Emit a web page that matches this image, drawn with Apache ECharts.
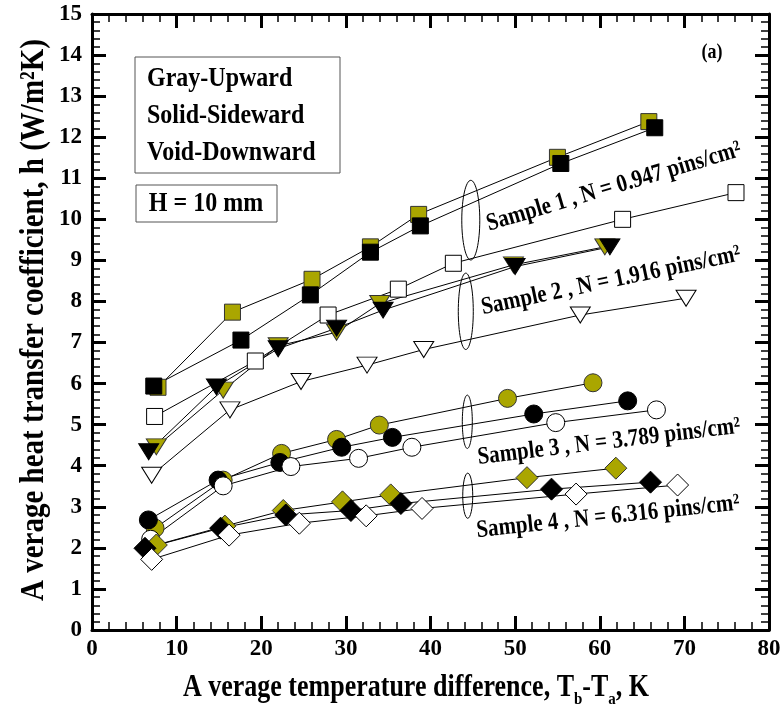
<!DOCTYPE html>
<html>
<head>
<meta charset="utf-8">
<script src="https://cdn.jsdelivr.net/npm/echarts@6/dist/echarts.min.js"></script>
<style>
  html, body { margin: 0; padding: 0; background: #fff; }
  #chart { width: 784px; height: 708px; }
</style>
</head>
<body>
<div id="chart"></div>
<script>
// Axis ranges and tick labels
const xTicks = [0, 10, 20, 30, 40, 50, 60, 70, 80];
const yTicks = [0, 1, 2, 3, 4, 5, 6, 7, 8, 9, 10, 11, 12, 13, 14, 15];

// Sample 1, N = 0.947 pins/cm² (squares)
const s1UpX   = [7.8, 16.6, 26.0, 32.9, 38.6, 55.0, 65.8];
const s1UpY   = [5.91, 7.74, 8.54, 9.33, 10.12, 11.51, 12.38];
const s1SideX = [7.3, 17.6, 25.8, 32.9, 38.8, 55.4, 66.5];
const s1SideY = [5.94, 7.06, 8.16, 9.20, 9.84, 11.36, 12.23];
const s1DownX = [7.4, 19.3, 27.9, 36.2, 42.7, 62.7, 76.1];
const s1DownY = [5.20, 6.55, 7.67, 8.30, 8.93, 10.00, 10.65];

// Sample 2, N = 1.916 pins/cm² (down triangles)
const s2UpX   = [7.6, 15.5, 22.0, 28.9, 34.0, 49.8, 60.6];
const s2UpY   = [4.46, 5.84, 6.92, 7.25, 7.95, 8.89, 9.33];
const s2SideX = [6.7, 14.7, 22.0, 28.9, 34.4, 50.0, 61.2];
const s2SideY = [4.34, 5.92, 6.85, 7.35, 7.79, 8.85, 9.33];
const s2DownX = [7.05, 16.3, 24.7, 32.5, 39.2, 57.7, 70.2];
const s2DownY = [3.77, 5.36, 6.05, 6.45, 6.83, 7.67, 8.08];

// Sample 3, N = 3.789 pins/cm² (circles)
const s3UpX   = [7.45, 15.5, 22.4, 28.9, 33.95, 49.1, 59.2];
const s3UpY   = [2.48, 3.65, 4.30, 4.64, 4.99, 5.64, 6.02];
const s3SideX = [6.66, 14.9, 22.2, 29.5, 35.5, 52.2, 63.3];
const s3SideY = [2.68, 3.65, 4.08, 4.45, 4.69, 5.26, 5.58];
const s3DownX = [6.93, 15.5, 23.5, 31.5, 37.8, 54.8, 66.7];
const s3DownY = [2.21, 3.51, 3.98, 4.18, 4.45, 5.05, 5.36];

// Sample 4, N = 6.316 pins/cm² (diamonds)
const s4UpX   = [7.6, 15.7, 22.6, 29.6, 35.3, 51.4, 61.9];
const s4UpY   = [2.07, 2.53, 2.91, 3.12, 3.29, 3.71, 3.94];
const s4SideX = [6.26, 15.2, 22.9, 30.6, 36.5, 54.3, 66.0];
const s4SideY = [1.99, 2.48, 2.80, 2.91, 3.08, 3.43, 3.60];
const s4DownX = [7.05, 16.2, 24.5, 32.4, 39.0, 57.2, 69.2];
const s4DownY = [1.72, 2.31, 2.60, 2.78, 2.96, 3.31, 3.53];

// Group labels and the ellipses that bracket each group (data units)
const sampleLabels = [
  'Sample 1 , N = 0.947 pins/cm²',
  'Sample 2 , N = 1.916 pins/cm²',
  'Sample 3 , N = 3.789 pins/cm²',
  'Sample 4 , N = 6.316 pins/cm²'
];
const ellipseCX = [44.76, 44.17, 44.35, 44.40];
const ellipseCY = [9.98, 7.76, 5.07, 3.27];
const ellipseRY = [0.97, 0.93, 0.65, 0.55];

const FONT = '"Liberation Serif", "Times New Roman", serif';
const OLIVE = '#aaa600';
const TALL = 1.18; // vertical stretch applied to the annotation lettering

const pairs = (xs, ys) => xs.map((x, i) => [x, ys[i]]);

const fills = { up: OLIVE, side: '#000', down: '#fff' };
const borders = { up: '#333', side: '#000', down: '#000' };

const shapes = [
  { symbol: 'rect', size: 16, rotate: 0 },
  { symbol: 'triangle', size: [20, 16], rotate: 180 },
  { symbol: 'circle', size: 18, rotate: 0 },
  { symbol: 'diamond', size: 22, rotate: 0 }
];

const groups = [
  { up: [s1UpX, s1UpY], side: [s1SideX, s1SideY], down: [s1DownX, s1DownY] },
  { up: [s2UpX, s2UpY], side: [s2SideX, s2SideY], down: [s2DownX, s2DownY] },
  { up: [s3UpX, s3UpY], side: [s3SideX, s3SideY], down: [s3DownX, s3DownY] },
  { up: [s4UpX, s4UpY], side: [s4SideX, s4SideY], down: [s4DownX, s4DownY] }
];

const series = [];
groups.forEach((g, gi) => {
  ['up', 'side', 'down'].forEach(k => {
    series.push({
      name: 'Sample ' + (gi + 1) + ' ' + k,
      type: 'line',
      data: pairs(g[k][0], g[k][1]),
      symbol: shapes[gi].symbol,
      symbolSize: shapes[gi].size,
      symbolRotate: shapes[gi].rotate,
      showSymbol: true,
      lineStyle: { color: '#000', width: 1 },
      itemStyle: { color: fills[k], borderColor: borders[k], borderWidth: 1, opacity: 1 },
      emphasis: { disabled: true },
      z: 3
    });
  });
});

function axisCommon(min, max, interval, pos, showLabel) {
  return {
    type: 'value', min: min, max: max, interval: interval, position: pos,
    axisLine: { show: true, onZero: false, lineStyle: { color: '#000', width: 3 } },
    axisTick: { show: true, inside: true, length: 14, lineStyle: { color: '#000', width: 3 } },
    minorTick: { show: true, splitNumber: 5, length: 8, lineStyle: { color: '#000', width: 1.5 } },
    splitLine: { show: false },
    axisLabel: {
      show: showLabel, color: '#000', fontFamily: FONT, fontWeight: 'bold', fontSize: 23,
      showMinLabel: true, showMaxLabel: true
    }
  };
}

const xMain = axisCommon(xTicks[0], xTicks[xTicks.length - 1], xTicks[1] - xTicks[0], 'bottom', true);
xMain.axisLabel.margin = 8;
xMain.axisLabel.formatter = v => String(xTicks.find(t => t === v) ?? v);
const yMain = axisCommon(yTicks[0], yTicks[yTicks.length - 1], yTicks[1] - yTicks[0], 'left', true);
yMain.axisLabel.margin = 10;
yMain.axisLabel.formatter = v => String(yTicks.find(t => t === v) ?? v);

const chart = echarts.init(document.getElementById('chart'), null, { renderer: 'canvas' });

chart.setOption({
  animation: false,
  backgroundColor: '#fff',
  grid: { left: 92, right: 15, top: 14, bottom: 78, containLabel: false },
  xAxis: [xMain, axisCommon(0, 80, 10, 'top', false)],
  yAxis: [yMain, axisCommon(0, 15, 1, 'right', false)],
  series: series
});

// Annotations: titles, boxed key, group ellipses and rotated group labels
const graphics = [];

graphics.push({
  type: 'text', x: 34, y: 320, rotation: Math.PI / 2, scaleY: TALL,
  style: {
    text: 'A verage heat transfer coefficient, h (W/m²K)',
    font: 'bold 29px ' + FONT, fill: '#000', align: 'center', verticalAlign: 'middle'
  }
});

graphics.push({
  type: 'text', x: 416, y: 688, scaleY: TALL,
  style: {
    text: 'A verage temperature difference, T{sub|b}-T{sub|a}, K',
    font: 'bold 26px ' + FONT, fill: '#000', align: 'center', verticalAlign: 'middle',
    lineHeight: 34,
    rich: { sub: { font: 'bold 15px ' + FONT, fill: '#000', verticalAlign: 'bottom', lineHeight: 34 } }
  }
});

// Key box
graphics.push({
  type: 'rect', shape: { x: 135, y: 57, width: 205, height: 116 },
  style: { fill: '#fff', stroke: '#555', lineWidth: 1 }, z: 10
});
['Gray-Upward', 'Solid-Sideward', 'Void-Downward'].forEach((t, i) => {
  graphics.push({
    type: 'text', x: 147, y: 79 + i * 37, z: 11, scaleY: TALL,
    style: { text: t, font: 'bold 24px ' + FONT, fill: '#000', align: 'left', verticalAlign: 'middle' }
  });
});
graphics.push({
  type: 'rect', shape: { x: 136, y: 185, width: 141, height: 37 },
  style: { fill: '#fff', stroke: '#555', lineWidth: 1 }, z: 10
});
graphics.push({
  type: 'text', x: 206, y: 204, z: 11, scaleY: TALL,
  style: { text: 'H = 10 mm', font: 'bold 24px ' + FONT, fill: '#000', align: 'center', verticalAlign: 'middle' }
});
graphics.push({
  type: 'text', x: 712, y: 53, z: 11, scaleY: TALL,
  style: { text: '(a)', font: 'bold 18px ' + FONT, fill: '#000', align: 'center', verticalAlign: 'middle' }
});

// Ellipses around each sample group
const pxPerY = chart.convertToPixel({ gridIndex: 0 }, [0, 0])[1] - chart.convertToPixel({ gridIndex: 0 }, [0, 1])[1];
const ellipseRX = [9, 7.5, 5, 5];
ellipseCX.forEach((cx, i) => {
  const c = chart.convertToPixel({ gridIndex: 0 }, [cx, ellipseCY[i]]);
  graphics.push({
    type: 'ellipse', z: 5,
    shape: { cx: c[0], cy: c[1], rx: ellipseRX[i], ry: ellipseRY[i] * pxPerY },
    style: { fill: null, stroke: '#000', lineWidth: 1 }
  });
});

// Rotated group labels
const labelPos = [[614, 187], [611, 281], [609, 442], [608, 517]];
const labelAngle = [16.5, 11.8, 6.8, 6];
sampleLabels.forEach((t, i) => {
  graphics.push({
    type: 'text', x: labelPos[i][0], y: labelPos[i][1], rotation: labelAngle[i] * Math.PI / 180, z: 11, scaleY: TALL,
    style: { text: t, font: 'bold 21px ' + FONT, fill: '#000', align: 'center', verticalAlign: 'middle' }
  });
});

chart.setOption({ graphic: { elements: graphics } });
</script>
</body>
</html>
